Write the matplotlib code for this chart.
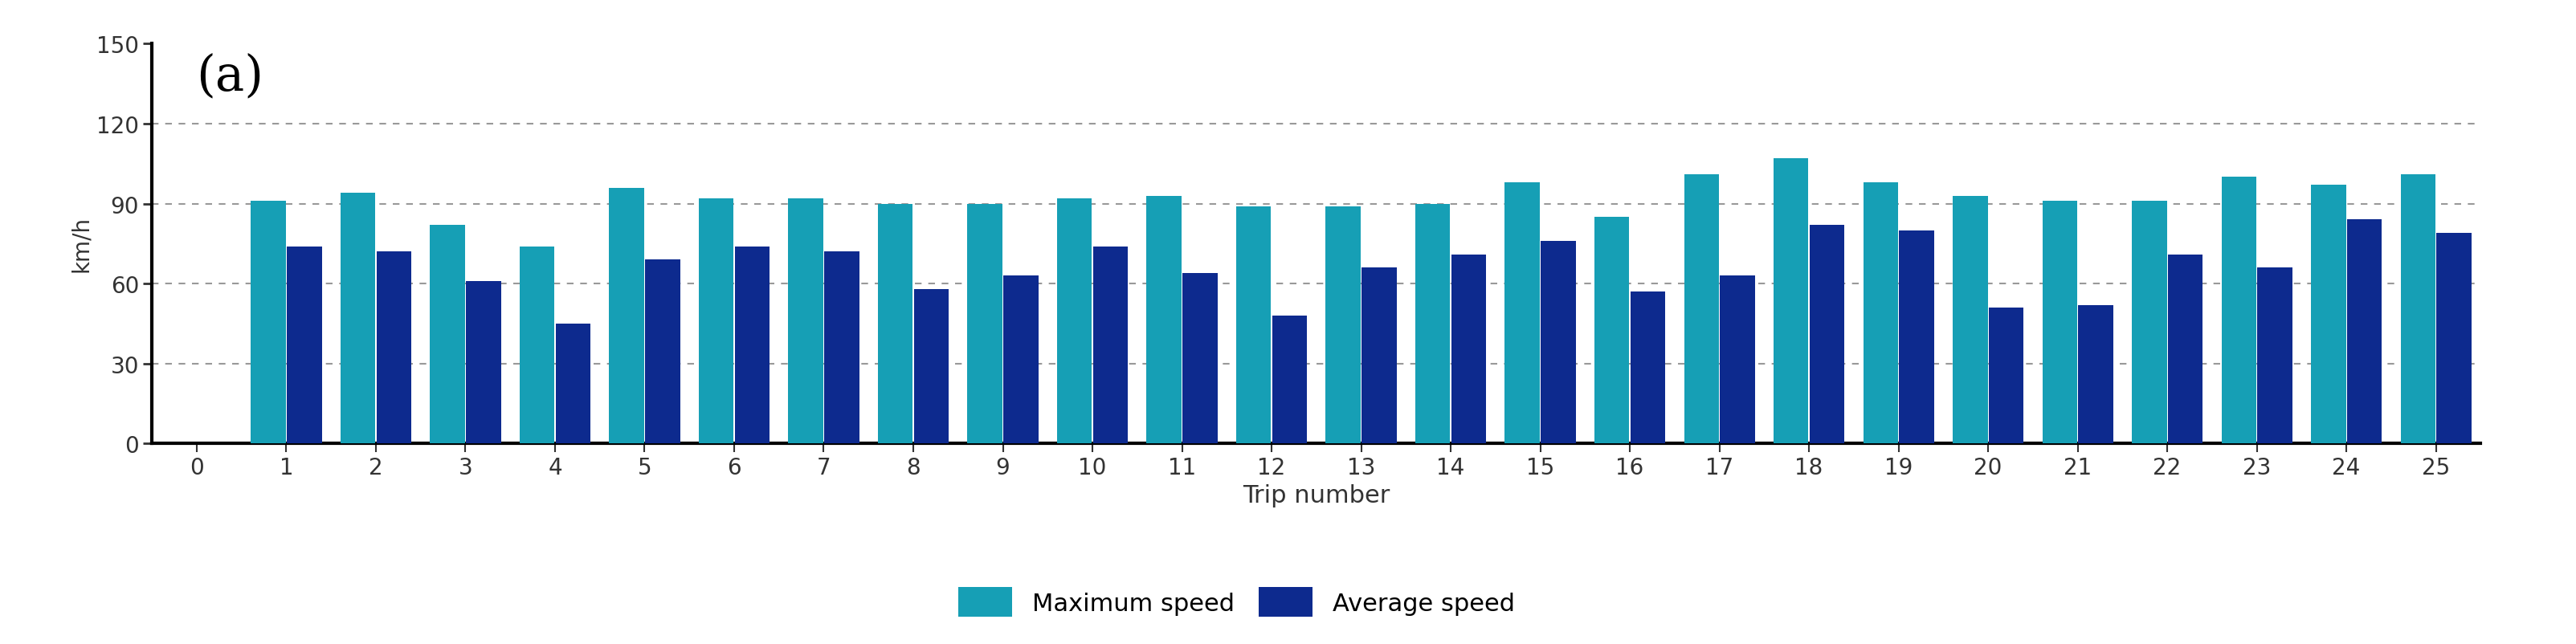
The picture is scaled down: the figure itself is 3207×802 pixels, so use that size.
import matplotlib
matplotlib.use("Agg")
import matplotlib.pyplot as plt
import numpy as np

trips = list(range(1, 26))
max_speed = [91,94,82,74,96,92,92,90,90,92,93,89,89,90,98,85,101,107,98,93,91,91,100,97,101]
avg_speed = [74,72,61,45,69,74,72,58,63,74,64,48,66,71,76,57,63,82,80,51,52,71,66,84,79]

fig = plt.figure(figsize=(32.07, 8.03), dpi=100)
ax = fig.add_axes([0.059, 0.311, 0.904, 0.62])
x = np.array(trips)
w = 0.39
ax.bar(x - 0.2, max_speed, w, color="#169fb5", label="Maximum speed", zorder=3)
ax.bar(x + 0.2, avg_speed, w, color="#0d2a8e", label="Average speed", zorder=3)
ax.set_xlim(-0.5, 25.5)
ax.set_ylim(0, 150)
ax.set_yticks(range(0, 151, 30))
ax.set_xticks(range(0, 26))
for y in [30, 60, 90, 120]:
    ax.axhline(y, color="#999999", ls=(0, (4, 4)), lw=1.5, zorder=1)
for s in ["top", "right"]:
    ax.spines[s].set_visible(False)
ax.spines["left"].set_linewidth(3)
ax.spines["bottom"].set_linewidth(3)
ax.tick_params(axis="y", labelsize=20, width=2, length=8, colors="#333333")
ax.tick_params(axis="x", labelsize=20, width=1.5, length=8, colors="#333333")
ax.set_ylabel("km/h", fontsize=20, color="#333333")
ax.set_xlabel("Trip number", fontsize=22, color="#333333")
ax.text(0.019, 0.92, "(a)", transform=ax.transAxes, fontsize=44, family="DejaVu Serif", va="center")
fig.legend(loc="center", bbox_to_anchor=(0.48, 0.065), ncol=2, fontsize=22, frameon=False,
           handlelength=2.2, handleheight=1.5, columnspacing=1.0)
fig.savefig("out.png", dpi=100)
